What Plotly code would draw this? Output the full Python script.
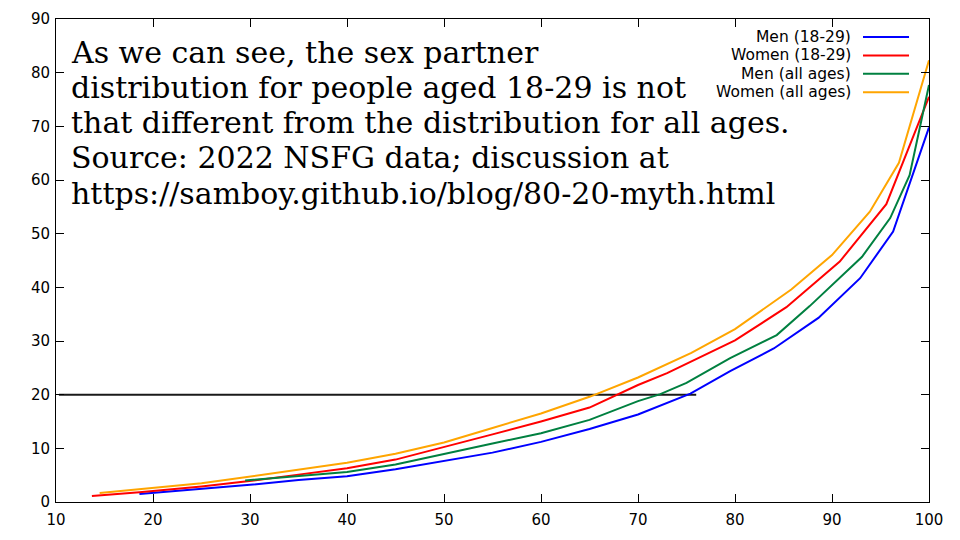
import plotly.graph_objects as go

# Men (18-29)
men_young_x = [18.6, 25, 30, 35, 40, 45, 50, 55, 60, 65, 70, 75.4, 79.5, 84, 88.6, 92.9, 96.3, 100]
men_young_y = [1.5, 2.4, 3.2, 4.1, 4.8, 6.1, 7.6, 9.2, 11.2, 13.6, 16.3, 20.2, 24.4, 28.6, 34.3, 41.7, 50.4, 69.8]

# Women (18-29)
women_young_x = [13.7, 18.6, 25, 29.5, 35, 40, 45, 50, 55, 60, 65, 70, 73, 80, 85.3, 90.8, 95.6, 100]
women_young_y = [1.1, 1.8, 2.9, 3.8, 5.1, 6.3, 7.9, 10.2, 12.6, 15.0, 17.6, 21.8, 24.0, 30.1, 36.3, 44.8, 55.5, 75.5]

# Men (all ages)
men_all_x = [29.5, 35, 40, 45, 50, 55, 60, 65, 70, 72.3, 75, 79.5, 84.3, 87.7, 93.1, 96.0, 98.0, 100]
men_all_y = [4.0, 4.8, 5.6, 7.0, 9.0, 10.9, 12.8, 15.3, 18.8, 20.1, 22.2, 26.8, 31.1, 36.5, 45.7, 52.9, 60.9, 77.7]

# Women (all ages)
women_all_x = [14.5, 18.6, 25, 29.5, 35, 40, 45, 50, 55, 60, 65, 70, 75.5, 80, 85.8, 90.0, 93.9, 96.9, 100]
women_all_y = [1.7, 2.4, 3.5, 4.6, 6.0, 7.3, 9.0, 11.1, 13.8, 16.5, 19.6, 23.2, 27.8, 32.2, 39.6, 46.0, 54.1, 63.2, 82.3]

# Reference line at 20
ref_x = [10.3, 76]
ref_y = [20, 20]

names = ["Men (18-29)", "Women (18-29)", "Men (all ages)", "Women (all ages)"]
colors = ["#0000ff", "#ff0000", "#008040", "#ffa500"]
series = [(men_young_x, men_young_y), (women_young_x, women_young_y),
          (men_all_x, men_all_y), (women_all_x, women_all_y)]

x_ticks = [10, 20, 30, 40, 50, 60, 70, 80, 90, 100]
y_ticks = [0, 10, 20, 30, 40, 50, 60, 70, 80, 90]

text_lines = [
    "As we can see, the sex partner",
    "distribution for people aged 18-29 is not",
    "that different from the distribution for all ages.",
    "Source: 2022 NSFG data; discussion at",
    "https://samboy.github.io/blog/80-20-myth.html",
]

fig = go.Figure()
fig.add_trace(go.Scatter(x=ref_x, y=ref_y, mode="lines",
                         line=dict(color="#1a1a1a", width=2), showlegend=False))
for (xs, ys), n, c in zip(series, names, colors):
    fig.add_trace(go.Scatter(x=xs, y=ys, mode="lines", name=n,
                             line=dict(color=c, width=2), showlegend=False))

# gnuplot-style key: text right-aligned, line sample to the right
annotations = []
shapes = []
key_top = 0.9627
key_step = 0.0381
for i, (n, c) in enumerate(zip(names, colors)):
    yy = key_top - i * key_step
    annotations.append(dict(text=n, x=0.913, y=yy, xref="paper", yref="paper",
                            xanchor="right", yanchor="middle", showarrow=False,
                            font=dict(family="DejaVu Sans", size=15.5, color="#000")))
    shapes.append(dict(type="line", xref="paper", yref="paper",
                       x0=0.9244, x1=0.9771, y0=yy, y1=yy,
                       line=dict(color=c, width=2)))

# big serif note, one annotation per line for gnuplot-like line spacing
plot_top, plot_h = 19, 483
for i, t in enumerate(text_lines):
    cy = 52 + i * 35.25
    annotations.append(dict(text=t, x=0.0149, y=(plot_top + plot_h - cy) / plot_h,
                            xref="paper", yref="paper", xanchor="left", yanchor="middle",
                            align="left", showarrow=False,
                            font=dict(family="DejaVu Serif", size=30, color="#000")))

axis_common = dict(showline=True, linecolor="black", linewidth=1, mirror="ticks",
                   ticks="inside", ticklen=8, tickcolor="black", showgrid=False,
                   zeroline=False, automargin=False,
                   tickfont=dict(family="DejaVu Sans", size=15, color="#000"))

fig.update_layout(
    width=960, height=540,
    margin=dict(l=48, r=39, t=11, b=46),
    paper_bgcolor="white", plot_bgcolor="white",
    xaxis=dict(range=[10, 100], tickvals=x_ticks, ticklabelstandoff=4, **axis_common),
    yaxis=dict(range=[0, 90], tickvals=y_ticks, ticklabelstandoff=2, **axis_common),
    annotations=annotations, shapes=shapes, showlegend=False,
)

fig.write_html("out.html")
